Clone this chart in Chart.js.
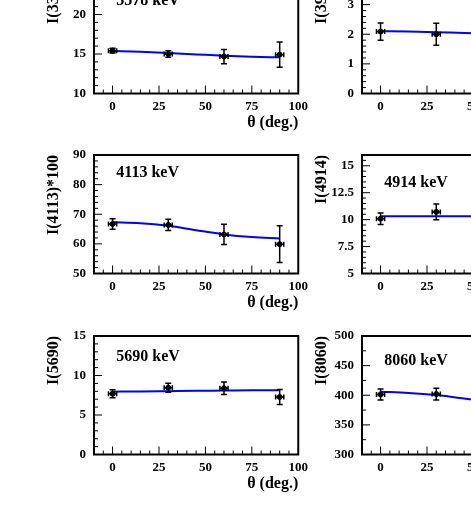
<!DOCTYPE html>
<html>
<head>
<meta charset="utf-8">
<script src="https://cdn.jsdelivr.net/npm/chart.js@4/dist/chart.umd.min.js"></script>
<style>
  body { margin: 0; background: #fff; }
  #page { position: relative; width: 471px; height: 510px; overflow: hidden; }
  canvas { position: absolute; }
</style>
</head>
<body>
<div id="page">
  <canvas id="c0" width="269" height="181"></canvas>
  <canvas id="c1" width="269" height="181"></canvas>
  <canvas id="c2" width="269" height="181"></canvas>
  <canvas id="c3" width="269" height="181"></canvas>
  <canvas id="c4" width="269" height="181"></canvas>
  <canvas id="c5" width="269" height="181"></canvas>
</div>
<script>
// measured angles (deg) and their half-width
const angles = [0, 30, 60, 90];
const angleErr = [2.2, 2.2, 2.2, 2.2];
const fitAngles = [0, 15, 30, 45, 60, 75, 90];
const xTicks = [0, 25, 50, 75, 100];

const labels = ['3378 keV', '3904 keV', '4113 keV', '4914 keV', '5690 keV', '8060 keV'];
const yTitles = ['I(3378)', 'I(3904)', 'I(4113)*100', 'I(4914)', 'I(5690)', 'I(8060)'];

const i3378 = [15.42, 15.0, 14.68, 14.92];
const i3378Err = [0.3, 0.4, 0.9, 1.6];
const fit3378 = [15.39, 15.27, 15.12, 14.95, 14.78, 14.65, 14.58];
const ticks3378 = [10, 15, 20, 25];

const i3904 = [2.09, 2.0, 2.02, 1.95];
const i3904Err = [0.29, 0.37, 0.4, 0.5];
const fit3904 = [2.10, 2.09, 2.07, 2.04, 2.02, 2.0, 1.99];
const ticks3904 = [0, 1, 2, 3, 4];

const i4113 = [66.7, 66.4, 63.2, 59.9];
const i4113Err = [1.75, 1.9, 3.4, 6.2];
const fit4113 = [67.3, 67.0, 66.1, 64.6, 63.2, 62.3, 61.8];
const ticks4113 = [50, 60, 70, 80, 90];

const i4914 = [10.09, 10.72, 10.3, 10.0];
const i4914Err = [0.53, 0.73, 0.8, 1.0];
const fit4914 = [10.31, 10.31, 10.31, 10.31, 10.31, 10.31, 10.31];
const ticks4914 = [5, 7.5, 10, 12.5, 15];

const i5690 = [7.69, 8.46, 8.39, 7.28];
const i5690Err = [0.5, 0.57, 0.78, 0.95];
const fit5690 = [7.95, 7.98, 8.02, 8.06, 8.09, 8.12, 8.14];
const ticks5690 = [0, 5, 10, 15];

const i8060 = [401.4, 402.0, 390.0, 378.0];
const i8060Err = [9.3, 10.0, 12.0, 15.0];
const fit8060 = [406, 404, 400.3, 394.5, 388, 382, 379];
const ticks8060 = [300, 350, 400, 450, 500];

const SERIF = '"Liberation Serif", "Times New Roman", serif';
Chart.defaults.color = '#000';

// ROOT-like frame: box, inward ticks, error bars, energy label
const rootFrame = {
    id: 'rootFrame',
    afterDatasetsDraw(chart, args, opts) {
        const {ctx, chartArea: a, scales: {x, y}} = chart;
        ctx.save();

        // error bars of the measured points
        const pts = chart.data.datasets[1];
        ctx.strokeStyle = '#000';
        ctx.lineWidth = 1.5;
        pts.data.forEach((p, i) => {
            const px = x.getPixelForValue(p.x), py = y.getPixelForValue(p.y);
            const y1 = y.getPixelForValue(p.y - pts.yErr[i]);
            const y2 = y.getPixelForValue(p.y + pts.yErr[i]);
            const x1 = x.getPixelForValue(p.x - pts.xErr[i]);
            const x2 = x.getPixelForValue(p.x + pts.xErr[i]);
            ctx.beginPath();
            ctx.moveTo(px, y1); ctx.lineTo(px, y2);
            ctx.moveTo(px - 3, y1); ctx.lineTo(px + 3, y1);
            ctx.moveTo(px - 3, y2); ctx.lineTo(px + 3, y2);
            ctx.moveTo(x1, py); ctx.lineTo(x2, py);
            ctx.moveTo(x1, py - 2.5); ctx.lineTo(x1, py + 2.5);
            ctx.moveTo(x2, py - 2.5); ctx.lineTo(x2, py + 2.5);
            ctx.stroke();
        });

        // inward ticks on bottom and left only
        ctx.lineWidth = 1;
        ctx.beginPath();
        const isMajor = (scale, v) => scale.ticks.some(t => Math.abs(t.value - v) < 1e-6);
        let n = Math.round((x.max - x.min) / opts.xMinor);
        for (let k = 1; k < n; k++) {
            const v = x.min + k * opts.xMinor;
            const px = x.getPixelForValue(v);
            ctx.moveTo(px, a.bottom);
            ctx.lineTo(px, a.bottom - (isMajor(x, v) ? 8 : 4));
        }
        n = Math.round((y.max - y.min) / opts.yMinor);
        for (let k = 1; k < n; k++) {
            const v = y.min + k * opts.yMinor;
            const py = y.getPixelForValue(v);
            ctx.moveTo(a.left, py);
            ctx.lineTo(a.left + (isMajor(y, v) ? 8 : 4), py);
        }
        ctx.stroke();

        ctx.lineWidth = 2;
        ctx.strokeRect(a.left, a.top, a.width, a.height);

        ctx.fillStyle = '#000';
        ctx.font = 'bold 16px ' + SERIF;
        ctx.textBaseline = 'middle';
        ctx.textAlign = 'left';
        ctx.fillText(opts.label, x.getPixelForValue(2), a.top + opts.labelDy);
        ctx.restore();
    }
};

const panels = [
    {id: 'c0', left: 44.3, top: -45.5, val: i3378, err: i3378Err, fit: fit3378, yTicks: ticks3378, yMinor: 1, labelDy: 26},
    {id: 'c1', left: 311.7, top: -45.5, val: i3904, err: i3904Err, fit: fit3904, yTicks: ticks3904, yMinor: 0.2, labelDy: 12},
    {id: 'c2', left: 44.3, top: 135, val: i4113, err: i4113Err, fit: fit4113, yTicks: ticks4113, yMinor: 2, labelDy: 18},
    {id: 'c3', left: 311.7, top: 135, val: i4914, err: i4914Err, fit: fit4914, yTicks: ticks4914, yMinor: 0.5, labelDy: 28, yMax: 16},
    {id: 'c4', left: 44.3, top: 315.7, val: i5690, err: i5690Err, fit: fit5690, yTicks: ticks5690, yMinor: 1, labelDy: 21},
    {id: 'c5', left: 311.7, top: 315.7, val: i8060, err: i8060Err, fit: fit8060, yTicks: ticks8060, yMinor: 25, labelDy: 25}
];

function makePanel(p, idx) {
    const canvas = document.getElementById(p.id);
    canvas.style.left = p.left + 'px';
    canvas.style.top = p.top + 'px';
    const yMin = p.yTicks[0];
    const yMax = p.yMax !== undefined ? p.yMax : p.yTicks[p.yTicks.length - 1];

    new Chart(canvas, {
        type: 'scatter',
        data: {
            datasets: [{
                type: 'line',
                data: fitAngles.map((a, i) => ({x: a, y: p.fit[i]})),
                borderColor: '#0000ff',
                borderWidth: 2,
                pointRadius: 0,
                cubicInterpolationMode: 'monotone',
                fill: false,
                order: 2
            }, {
                data: angles.map((a, i) => ({x: a, y: p.val[i]})),
                yErr: p.err,
                xErr: angleErr,
                backgroundColor: '#000',
                borderColor: '#000',
                pointRadius: 2.5,
                order: 1
            }]
        },
        options: {
            animation: false,
            responsive: false,
            devicePixelRatio: 1,
            layout: {padding: {left: 0, top: 20, right: 14.3, bottom: 2.5}},
            plugins: {
                legend: {display: false},
                tooltip: {enabled: false},
                rootFrame: {label: labels[idx], labelDy: p.labelDy, xMinor: 5, yMinor: p.yMinor}
            },
            scales: {
                x: {
                    type: 'linear',
                    min: -10,
                    max: 100,
                    afterBuildTicks: s => { s.ticks = xTicks.map(v => ({value: v})); },
                    afterFit: s => { s.height = 40; },
                    grid: {display: false, drawTicks: false},
                    border: {display: false},
                    ticks: {
                        padding: 5,
                        maxRotation: 0,
                        font: {family: SERIF, size: 13, weight: 'bold'},
                        callback: v => String(v)
                    },
                    title: {
                        display: true,
                        text: 'θ (deg.)',
                        align: 'end',
                        padding: {top: 0, bottom: 1.5},
                        font: {family: SERIF, size: 16, weight: 'bold'}
                    }
                },
                y: {
                    type: 'linear',
                    min: yMin,
                    max: yMax,
                    afterBuildTicks: s => { s.ticks = p.yTicks.map(v => ({value: v})); },
                    afterFit: s => { s.width = 50; },
                    grid: {display: false, drawTicks: false},
                    border: {display: false},
                    ticks: {
                        padding: 8,
                        font: {family: SERIF, size: 13, weight: 'bold'},
                        callback: v => String(v)
                    },
                    title: {
                        display: true,
                        text: yTitles[idx],
                        align: 'end',
                        padding: {top: 0, bottom: 0},
                        font: {family: SERIF, size: 16, weight: 'bold'}
                    }
                }
            }
        },
        plugins: [rootFrame]
    });
}

panels.forEach(makePanel);
</script>
</body>
</html>
